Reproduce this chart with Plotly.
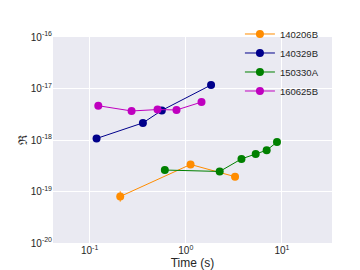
import plotly.graph_objects as go

names = ["140206B", "140329B", "150330A", "160625B"]
colors = ["#FF8C00", "#00008B", "#008000", "#BF00BF"]

t_140206B = [0.208, 1.12, 3.25]
r_140206B = [8.0e-20, 3.35e-19, 1.94e-19]
eup_140206B = [2.1e-20, 0, 0]
edn_140206B = [1.65e-20, 0, 0]

t_140329B = [0.118, 0.358, 0.563, 1.83]
r_140329B = [1.07e-18, 2.15e-18, 3.76e-18, 1.17e-17]

t_150330A = [0.605, 2.25, 3.79, 5.33, 6.93, 8.87]
r_150330A = [2.61e-19, 2.45e-19, 4.3e-19, 5.37e-19, 6.33e-19, 9.1e-19]

t_160625B = [0.123, 0.273, 0.508, 0.80, 1.456]
r_160625B = [4.63e-18, 3.66e-18, 3.9e-18, 3.83e-18, 5.45e-18]

series = [
    (t_140206B, r_140206B, eup_140206B, edn_140206B),
    (t_140329B, r_140329B, None, None),
    (t_150330A, r_150330A, None, None),
    (t_160625B, r_160625B, None, None),
]

fig = go.Figure()
for name, col, (t, r, eu, ed) in zip(names, colors, series):
    kw = {}
    if eu is not None:
        kw["error_y"] = dict(type="data", array=eu, arrayminus=ed, symmetric=False,
                             color=col, thickness=1, width=0)
    fig.add_trace(go.Scatter(
        x=t, y=r, name=name, mode="lines+markers",
        line=dict(color=col, width=1),
        marker=dict(color=col, size=8),
        **kw))

xt = [0.1, 1, 10]
xl = ["10<sup>-1</sup>", "10<sup>0</sup>", "10<sup>1</sup>"]
yt = [1e-20, 1e-19, 1e-18, 1e-17, 1e-16]
yl = ["10<sup>-20</sup>", "10<sup>-19</sup>", "10<sup>-18</sup>", "10<sup>-17</sup>", "10<sup>-16</sup>"]

fig.update_layout(
    width=360, height=270,
    margin=dict(l=45, r=36, t=27, b=35),
    paper_bgcolor="white", plot_bgcolor="#EAEAF2",
    font=dict(family="Liberation Sans", size=10, color="#262626"),
    showlegend=True,
    legend=dict(x=0.67, y=1.085, xanchor="left", yanchor="top",
                bgcolor="rgba(0,0,0,0)", font=dict(size=9.5),
                itemwidth=30, tracegroupgap=0),
)
fig.update_xaxes(type="log", range=[-1.381, 1.52], tickvals=xt, ticktext=xl,
                 gridcolor="white", gridwidth=1, zeroline=False, showline=False,
                 ticks="", tickfont=dict(size=10),
                 title=dict(text="Time (s)", font=dict(size=12), standoff=2))
fig.update_yaxes(type="log", range=[-20, -16], tickvals=yt, ticktext=yl,
                 gridcolor="white", gridwidth=1, zeroline=False, showline=False,
                 ticks="", tickfont=dict(size=10),
                 title=dict(text="ℜ", font=dict(size=12), standoff=0))

fig.write_html("out.html")
